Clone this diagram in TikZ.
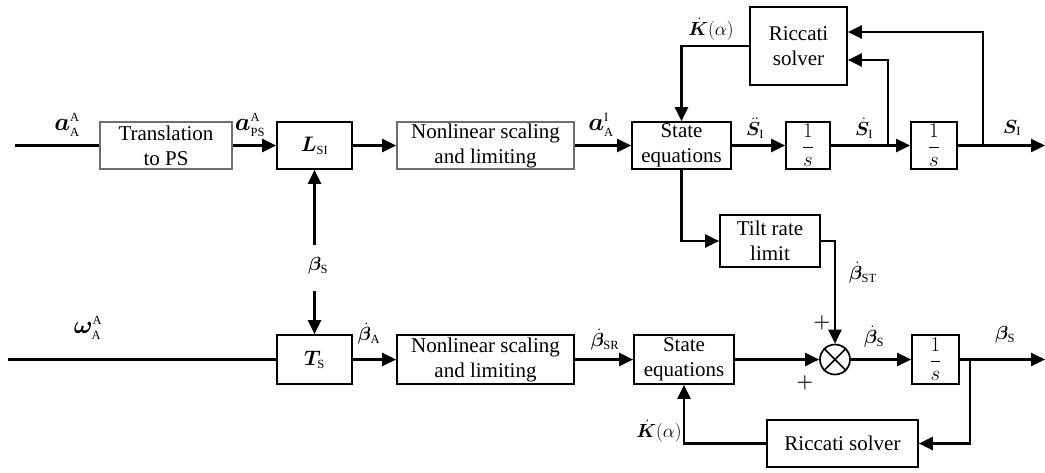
\RequirePackage{fix-cm}
\documentclass[tikz,border=0pt]{standalone}
\usepackage{amsmath}
\usepackage{bm}
\usepackage{fontspec}
\setmainfont{Liberation Serif}
\usetikzlibrary{arrows.meta,calc}
\definecolor{edgegrey}{RGB}{110,110,110}
\newcommand{\sx}[1]{\text{\fontsize{12.5}{13}\selectfont #1}}
\begin{document}
\begin{tikzpicture}[x=1pt,y=-1pt,
  blk/.style={draw, line width=1.7pt, inner sep=0pt, align=center, font=\fontsize{21}{25}\selectfont},
  gblk/.style={blk, draw=edgegrey},
  lbl/.style={inner sep=0pt, font=\fontsize{19}{23}\selectfont},
  biglbl/.style={inner sep=0pt, font=\fontsize{25}{28}\selectfont},
  wire/.style={line width=2.2pt},
  arr/.style={wire, -{Triangle[length=14pt,width=13pt]}}]
\useasboundingbox (0,0) rectangle (1045,472);
% top row blocks
\node[gblk, minimum width=132pt, minimum height=47pt] (trans) at (166,145.5) {Translation\\to PS};
\node[blk, minimum width=75pt, minimum height=47pt] (lsi) at (314.5,145.5) {$\bm{L}_{\sx{SI}}$};
\node[gblk, minimum width=177pt, minimum height=47pt] (nl1) at (485.5,145.5) {Nonlinear scaling\\and limiting};
\node[blk, minimum width=99pt, minimum height=47pt] (se1) at (681.5,145.5) {State\\equations};
\node[blk, minimum width=44pt, minimum height=47pt] (int1) at (808,145.5) {$\dfrac{1}{s}$};
\node[blk, minimum width=46pt, minimum height=47pt] (int2) at (934,145.5) {$\dfrac{1}{s}$};
\node[blk, minimum width=97pt, minimum height=78pt] (ric1) at (798.5,46) {Riccati\\solver};
\node[blk, minimum width=100pt, minimum height=52pt] (tilt) at (770,241) {Tilt rate\\limit};
% bottom row blocks
\node[blk, minimum width=75pt, minimum height=49pt] (ts) at (314.5,359.5) {$\bm{T}_{\sx{S}}$};
\node[blk, minimum width=177pt, minimum height=49pt] (nl2) at (485.5,359.5) {Nonlinear scaling\\and limiting};
\node[blk, minimum width=100pt, minimum height=49pt] (se2) at (684,359.5) {State\\equations};
\node[draw, circle, line width=1.7pt, minimum size=30pt, inner sep=0pt] (sum) at (835,359.5) {};
\draw[line width=1.7pt] (sum.north west) -- (sum.south east) (sum.north east) -- (sum.south west);
\node[blk, minimum width=47pt, minimum height=49pt] (int3) at (935.5,359.5) {$\dfrac{1}{s}$};
\node[blk, minimum width=151pt, minimum height=47pt] (ric2) at (842.5,443.5) {Riccati solver};
% coordinates
\coordinate (inA) at (15,145.5);
\coordinate (outS) at (1045,145.5);
\coordinate (bSd) at (888,145.5);
\coordinate (bS) at (983,145.5);
\coordinate (betaUp) at (314.5,245);
\coordinate (betaDn) at (314.5,291);
\coordinate (inW) at (8,359.5);
\coordinate (outB) at (1045,359.5);
\coordinate (bB) at (970,359.5);
% top wires
\draw[wire] (inA) -- (trans.west);
\draw[arr] (trans.east) -- (lsi.west);
\draw[arr] (lsi.east) -- (nl1.west);
\draw[arr] (nl1.east) -- (se1.west);
\draw[arr] (se1.east) -- (int1.west);
\draw[arr] (int1.east) -- (int2.west);
\draw[arr] (int2.east) -- (outS);
\draw[arr] (bSd) |- ($(ric1.east)+(0,14)$);
\draw[arr] (bS) |- ($(ric1.east)+(0,-14)$);
\draw[arr] (ric1.west) -| (se1.north);
\draw[arr] (se1.south) |- (tilt.west);
\draw[arr] (tilt.east) -| (sum.north);
\draw[arr] (betaUp) -- (lsi.south);
\draw[arr] (betaDn) -- (ts.north);
% bottom wires
\draw[wire] (inW) -- (ts.west);
\draw[arr] (ts.east) -- (nl2.west);
\draw[arr] (nl2.east) -- (se2.west);
\draw[arr] (se2.east) -- (sum.west);
\draw[arr] (sum.east) -- (int3.west);
\draw[arr] (int3.east) -- (outB);
\draw[arr] (bB) |- (ric2.east);
\draw[arr] (ric2.west) -| (se2.south);
% labels
\node[biglbl] (l1) at (67,125) {$\bm{a}^{\sx{A}}_{\sx{A}}$};
\node[biglbl] (l2) at (250,125) {$\bm{a}^{\sx{A}}_{\sx{PS}}$};
\node[biglbl] (l3) at (601,125) {$\bm{a}^{\sx{I}}_{\sx{A}}$};
\node[lbl] (l4) at (711,29) {$\dot{\bm{K}}(\alpha)$};
\node[lbl] (l5) at (755,128) {$\ddot{\bm{S}}_{\sx{I}}$};
\node[lbl] (l6) at (864,128) {$\dot{\bm{S}}_{\sx{I}}$};
\node[lbl] (l7) at (1012,128) {$\bm{S}_{\sx{I}}$};
\node[lbl] (l8) at (863,273) {$\dot{\bm{\beta}}_{\sx{ST}}$};
\node[lbl] (l9) at (318,266) {$\bm{\beta}_{\sx{S}}$};
\node[biglbl] (l10) at (88,328) {$\bm{\omega}^{\sx{A}}_{\sx{A}}$};
\node[lbl] (l11) at (369,334) {$\dot{\bm{\beta}}_{\sx{A}}$};
\node[lbl] (l12) at (605,340) {$\dot{\bm{\beta}}_{\sx{SR}}$};
\node[lbl] (l13) at (659,431) {$\dot{\bm{K}}(\alpha)$};
\node[lbl] (l14) at (822,323) {$\bm{+}$};
\node[lbl] (l15) at (805,383) {$\bm{+}$};
\node[lbl] (l16) at (874,337) {$\dot{\bm{\beta}}_{\sx{S}}$};
\node[lbl] (l17) at (1005,335) {$\bm{\beta}_{\sx{S}}$};
\end{tikzpicture}
\end{document}
